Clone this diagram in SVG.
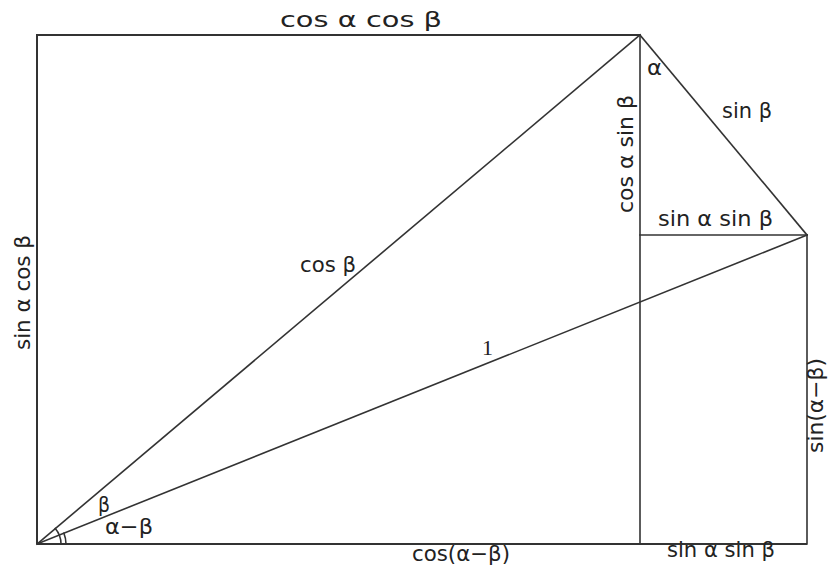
<svg xmlns="http://www.w3.org/2000/svg" width="834" height="574" viewBox="0 0 834 574">
<style>
.ln{stroke:#333;stroke-width:1.6;fill:none;stroke-linecap:square}
.bx{stroke:#333;stroke-width:2;fill:none}
.t{font-family:"DejaVu Sans","Liberation Sans",sans-serif;font-size:21px;fill:#222}
.s{font-family:"Liberation Serif",serif;font-size:22px;fill:#222}
</style>
<rect width="834" height="574" fill="#fff"/>
<g id="connectors">
<polyline class="bx" points="37,544 37,35 640,35"/>
<line class="bx" x1="37" y1="544" x2="807" y2="544"/>
<line class="ln" x1="640" y1="35" x2="640" y2="544"/>
<line class="ln" x1="640" y1="235" x2="807" y2="235"/>
<line class="ln" x1="807" y1="235" x2="807" y2="544"/>
<line class="ln" x1="37" y1="544" x2="640" y2="35"/>
<line class="ln" x1="37" y1="544" x2="807" y2="235"/>
<line class="ln" x1="640" y1="35" x2="807" y2="235"/>
<path class="ln" d="M61,544 A24,24 0 0 0 55.3,528.5" stroke-width="1.3"/>
<path class="ln" d="M66,544 A29,29 0 0 0 63.9,533.2" stroke-width="1.3"/>
</g>
<g id="labels">
<text class="t" x="280" y="27" textLength="162" lengthAdjust="spacingAndGlyphs">cos α cos β</text>
<text class="t" x="300" y="272" textLength="56" lengthAdjust="spacingAndGlyphs">cos β</text>
<text class="s" x="482" y="355">1</text>
<text class="t" x="98" y="512" textLength="12" lengthAdjust="spacingAndGlyphs">β</text>
<text class="t" x="105" y="534" textLength="48" lengthAdjust="spacingAndGlyphs">α−β</text>
<text class="t" x="647" y="75" textLength="15" lengthAdjust="spacingAndGlyphs">α</text>
<text class="t" x="722" y="118" textLength="50" lengthAdjust="spacingAndGlyphs">sin β</text>
<text class="t" x="658" y="226" textLength="115" lengthAdjust="spacingAndGlyphs">sin α sin β</text>
<text class="t" x="412" y="561" textLength="98" lengthAdjust="spacingAndGlyphs">cos(α−β)</text>
<text class="t" x="667" y="557" textLength="108" lengthAdjust="spacingAndGlyphs">sin α sin β</text>
<text class="t" transform="translate(633,213) rotate(-90)" textLength="118" lengthAdjust="spacingAndGlyphs">cos α sin β</text>
<text class="t" transform="translate(30,350) rotate(-90)" textLength="115" lengthAdjust="spacingAndGlyphs">sin α cos β</text>
<text class="t" transform="translate(823,453) rotate(-90)" textLength="95" lengthAdjust="spacingAndGlyphs">sin(α−β)</text>
</g>
</svg>
